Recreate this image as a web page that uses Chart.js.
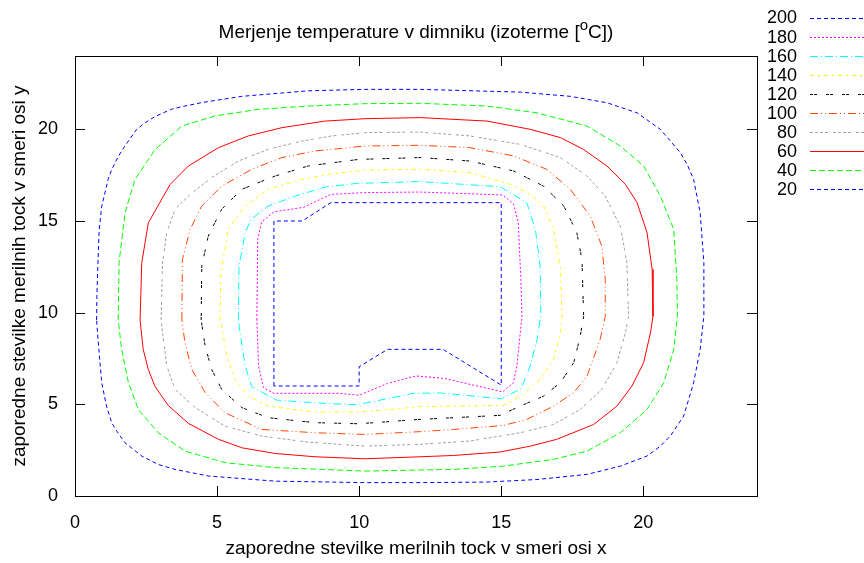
<!DOCTYPE html>
<html>
<head>
<title>Merjenje temperature v dimniku</title>
<script src="https://cdn.jsdelivr.net/npm/chart.js@4.4.0/dist/chart.umd.min.js"></script>
<style>
  body { margin: 0; background: #fff; }
  #wrap { width: 864px; height: 563px; }
</style>
</head>
<body>
<div id="wrap"><canvas id="myChart" width="864" height="563"></canvas></div>
<script>
// isotherm levels (legend order)
var levels = ["200", "180", "160", "140", "120", "100", "80", "60", "40", "20"];

// contour lines, [x, y] pairs
var iso200 = [[7,6],[7,15],[8,15],[9,16],[15,16],[15,6.05],[12.95,8],[11,8],[10,7.05],[10,6],[7,6]];
var iso180 = [[6.4,9.6],[6.43,14],[6.57,14.95],[7,15.5],[8.05,15.75],[9,16.45],[10.2,16.55],[12.15,16.58],[15.05,16.42],[15.43,15.93],[15.6,14.9],[15.69,11.8],[15.73,9.8],[15.55,7.1],[15.43,6.18],[15.05,5.68],[13,6.41],[12,6.55],[11,6.14],[10,5.5],[9.27,5.6],[7,5.6],[6.63,5.91],[6.46,7.1],[6.4,9.6]];
var iso160 = [[5.75,9.6],[5.77,12.54],[5.99,14.36],[6.2,15.1],[6.8,15.82],[7.75,16.36],[8.8,16.85],[9.9,17.05],[12.15,17.15],[14.96,16.87],[15.9,16],[16.2,14.54],[16.37,12.54],[16.39,9.8],[16.26,8.54],[16.02,7.09],[15.7,5.85],[15,5.3],[13.7,5.5],[12.85,5.62],[11.9,5.6],[10.74,5.23],[9.92,4.98],[8.8,5.05],[7.1,5.23],[6.22,5.96],[5.99,7.09],[5.81,8.9],[5.75,9.6]];
var iso140 = [[5.1,9.6],[5.14,12.18],[5.39,14.54],[5.99,15.82],[6.8,16.73],[7.98,17.27],[8.92,17.55],[10.21,17.78],[12.15,17.82],[13.91,17.64],[15.32,17],[16.02,16.45],[16.49,15.82],[16.84,14.54],[17.08,12.54],[17.14,9.8],[17.08,8.9],[16.84,7.45],[16.37,6.36],[15.67,5.45],[15.08,4.94],[13.32,4.9],[12.15,4.87],[10.21,4.6],[8.45,4.58],[6.8,4.9],[6.1,5.45],[5.63,6.36],[5.34,7.63],[5.16,9.27],[5.1,9.6]];
var iso120 = [[4.44,9.6],[4.46,12.54],[4.69,14.18],[5.16,15.64],[5.87,16.73],[7.04,17.45],[8.2,18],[9.98,18.36],[12.15,18.46],[13.91,18.27],[15.43,17.73],[16.49,16.9],[17.2,15.82],[17.66,14.36],[17.84,12.9],[17.9,9.8],[17.78,8.72],[17.55,7.27],[17.08,6.18],[16.49,5.45],[15.55,4.82],[14.96,4.4],[13.32,4.27],[12.15,4.18],[9.98,3.94],[8.45,4],[6.8,4.27],[5.87,4.82],[5.16,5.82],[4.81,6.9],[4.58,8.18],[4.44,9.6]];
var iso100 = [[3.76,9.6],[3.78,12.9],[4.05,14.54],[4.46,15.82],[5.16,16.9],[6.22,17.82],[7.28,18.46],[8.45,18.82],[10.21,19.09],[12.15,19.13],[13.91,19],[15.43,18.55],[16.6,17.82],[17.43,16.73],[18.13,15.27],[18.54,13.63],[18.66,11.8],[18.66,9.8],[18.48,8.54],[18.02,6.54],[17.55,5.64],[16.84,4.9],[15.9,4.18],[15.08,3.85],[13.32,3.63],[12.15,3.51],[10.21,3.36],[8.45,3.45],[6.57,3.63],[5.28,4.54],[4.58,5.64],[4.11,6.9],[3.87,8.36],[3.76,9.6]];
var iso80 = [[3.03,9.6],[3.08,12.73],[3.23,14.36],[3.52,15.64],[4.05,16.45],[4.81,17.37],[5.75,18.27],[6.8,18.91],[7.98,19.36],[9.04,19.64],[10.21,19.82],[12.15,19.85],[13.91,19.64],[15.67,19.18],[17.08,18.46],[18.02,17.45],[18.66,16.36],[19.19,14.72],[19.42,12.73],[19.48,9.8],[19.37,8.9],[19.07,7.27],[18.54,5.82],[17.78,4.72],[16.84,3.9],[15.67,3.45],[13.91,3],[12.15,2.82],[10.21,2.72],[8.2,2.94],[6.57,3.27],[5.28,3.81],[4.23,4.82],[3.52,5.82],[3.23,7.09],[3.08,8.9],[3.03,9.6]];
var iso60 = [[2.29,9.6],[2.35,12.73],[2.58,14.9],[3.35,17],[3.99,18],[5.05,19],[6.1,19.64],[7.28,20.09],[8.8,20.45],[10.21,20.58],[12.15,20.64],[14.5,20.45],[16.02,20],[17.08,19.55],[17.9,18.9],[18.72,18],[19.37,17],[19.78,16],[20.13,14.36],[20.31,12.36],[20.34,9.8],[20.25,8.9],[20.01,7.27],[19.6,6],[19.07,4.9],[18.25,3.9],[16.95,3.09],[16.02,2.72],[14.96,2.4],[13.32,2.21],[12.15,2.14],[10.21,2.03],[8.45,2.14],[7.04,2.32],[5.87,2.63],[5.05,3.09],[3.99,3.96],[3.28,4.94],[2.82,5.96],[2.58,6.9],[2.4,8],[2.29,9.6]];
var iso40 = [[1.52,9.6],[1.55,12.73],[1.76,15.45],[2.11,17.27],[2.82,18.9],[3.76,20.18],[4.93,20.73],[6.45,21.09],[8.2,21.27],[10.21,21.4],[12.15,21.42],[14.5,21.27],[16.26,20.9],[18.02,20.18],[19.19,19.09],[20.01,18],[20.6,16.36],[21.07,14.54],[21.18,11.8],[21.2,9.8],[21.07,8],[20.72,6.18],[20.13,4.72],[19.19,3.45],[18.02,2.45],[16.84,2],[15.08,1.63],[13.32,1.45],[12.15,1.42],[10.21,1.36],[7.04,1.55],[5.28,1.82],[3.87,2.45],[2.93,3.45],[2.23,4.72],[1.88,6.18],[1.64,8],[1.52,9.6]];
var iso20 = [[0.76,9.6],[0.77,10.9],[0.82,13.27],[0.85,14.5],[0.94,15.8],[1.17,17.3],[1.29,17.8],[1.53,18.54],[1.76,19.1],[2.17,20],[2.47,20.36],[2.82,20.7],[3.4,21.1],[3.87,21.27],[4.46,21.46],[5.87,21.8],[8.2,22.1],[10.2,22.18],[12.15,22.18],[15.67,22.03],[17.43,21.8],[18.72,21.45],[19.78,20.9],[20.6,20],[21.3,18.73],[21.54,18.09],[21.77,17.27],[22,15.45],[22.13,12.73],[22.13,9.8],[22,8],[21.77,6.18],[21.42,4.36],[20.95,3.27],[20.6,2.72],[20.13,2.18],[19.19,1.63],[18.02,1.18],[16.26,0.9],[14.5,0.76],[12.15,0.73],[10.21,0.73],[7.04,0.81],[4.69,1.09],[3.52,1.45],[2.93,1.72],[2.35,2.18],[1.76,2.9],[1.47,3.54],[1.29,4],[1.11,4.9],[0.94,6.18],[0.81,8.54],[0.76,9.6]];

var contours = [iso200, iso180, iso160, iso140, iso120, iso100, iso80, iso60, iso40, iso20];

// axis ticks
var xTicks = [0, 5, 10, 15, 20];
var yTicks = [0, 5, 10, 15, 20];

var colors = ["#0000ff", "#ff00ff", "#00ffff", "#ffff00", "#000000", "#ff4500", "#a0a0a0", "#ff0000", "#00ff00", "#0000ff"];
var dashes = [[4,3], [2,2], [8,3,1,3], [4,4,2,4], [3,1,3,9], [8,3,1,3,1,3], [3,2,3,2,3,2,3,5], [], [6,3], [4,3]];

var FONT = "'Liberation Sans', Arial, sans-serif";
var FS = 19;   // title and axis labels
var FT = 18;   // tick labels and key

var datasets = [];
for (var i = 0; i < levels.length; i++) {
  datasets.push({
    label: levels[i],
    data: contours[i].map(function(p){ return {x: p[0], y: p[1]}; }),
    showLine: true,
    borderColor: colors[i],
    borderWidth: 1,
    borderDash: dashes[i],
    pointRadius: 0,
    tension: 0,
    fill: false
  });
}

// frame, inward ticks, title and key in gnuplot style
var gnuplotBits = {
  id: "gnuplotBits",
  afterDraw: function(chart) {
    var ctx = chart.ctx;
    var a = chart.chartArea;
    var sx = chart.scales.x, sy = chart.scales.y;
    ctx.save();
    ctx.strokeStyle = "#000";
    ctx.lineWidth = 1;
    ctx.setLineDash([]);
    ctx.strokeRect(Math.round(a.left) + 0.5, Math.round(a.top) + 0.5, Math.round(a.right - a.left), Math.round(a.bottom - a.top));
    var tl = 10;
    ctx.beginPath();
    xTicks.forEach(function(v){
      var px = Math.round(sx.getPixelForValue(v)) + 0.5;
      ctx.moveTo(px, a.bottom); ctx.lineTo(px, a.bottom - tl);
      ctx.moveTo(px, a.top); ctx.lineTo(px, a.top + tl);
    });
    yTicks.forEach(function(v){
      var py = Math.round(sy.getPixelForValue(v)) + 0.5;
      ctx.moveTo(a.left, py); ctx.lineTo(a.left + tl, py);
      ctx.moveTo(a.right, py); ctx.lineTo(a.right - tl, py);
    });
    ctx.stroke();

    // title with superscript o
    ctx.fillStyle = "#000";
    ctx.textBaseline = "alphabetic";
    ctx.textAlign = "left";
    var t1 = "Merjenje temperature v dimniku (izoterme [";
    var t2 = "o";
    var t3 = "C])";
    var small = Math.round(FS * 0.8);
    ctx.font = FS + "px " + FONT;
    var w1 = ctx.measureText(t1).width, w3 = ctx.measureText(t3).width;
    ctx.font = small + "px " + FONT;
    var w2 = ctx.measureText(t2).width;
    var cx = (a.left + a.right) / 2;
    var x0 = cx - (w1 + w2 + w3) / 2;
    var by = 38;
    ctx.font = FS + "px " + FONT;
    ctx.fillText(t1, x0, by);
    ctx.font = small + "px " + FONT;
    ctx.fillText(t2, x0 + w1, by - 8);
    ctx.font = FS + "px " + FONT;
    ctx.fillText(t3, x0 + w1 + w2, by);

    // key
    ctx.textAlign = "right";
    ctx.textBaseline = "middle";
    chart.data.datasets.forEach(function(ds, i){
      var ky = 17.5 + i * 19.1;
      ctx.fillStyle = "#000";
      ctx.font = FT + "px " + FONT;
      ctx.fillText(ds.label, 797, ky + 1);
      ctx.strokeStyle = ds.borderColor;
      ctx.setLineDash(ds.borderDash);
      ctx.beginPath();
      ctx.moveTo(810, Math.round(ky) + 0.5);
      ctx.lineTo(864, Math.round(ky) + 0.5);
      ctx.stroke();
    });
    ctx.restore();
  }
};

var chart = new Chart(document.getElementById("myChart"), {
  type: "scatter",
  data: { datasets: datasets },
  options: {
    responsive: false,
    animation: false,
    layout: { padding: { top: 56, right: 107, left: 0, bottom: 0 } },
    plugins: { legend: { display: false }, tooltip: { enabled: false } },
    scales: {
      x: {
        type: "linear", min: 0, max: 24,
        afterBuildTicks: function(s){ s.ticks = xTicks.map(function(v){ return {value: v}; }); },
        afterFit: function(s){ s.height = 67; },
        grid: { display: false, drawTicks: false },
        border: { display: false },
        ticks: { color: "#000", font: { family: FONT, size: FT }, padding: 16, maxRotation: 0 },
        title: { display: true, text: "zaporedne stevilke merilnih tock v smeri osi x", color: "#000", font: { family: FONT, size: FS }, padding: { top: 0, bottom: 3 } }
      },
      y: {
        type: "linear", min: 0, max: 24,
        afterBuildTicks: function(s){ s.ticks = yTicks.map(function(v){ return {value: v}; }); },
        afterFit: function(s){ s.width = 75; },
        grid: { display: false, drawTicks: false },
        border: { display: false },
        ticks: { color: "#000", font: { family: FONT, size: FT }, padding: 17 },
        title: { display: true, text: "zaporedne stevilke merilnih tock v smeri osi y", color: "#000", font: { family: FONT, size: FS }, padding: { top: 8, bottom: 0 } }
      }
    }
  },
  plugins: [gnuplotBits]
});
</script>
</body>
</html>
